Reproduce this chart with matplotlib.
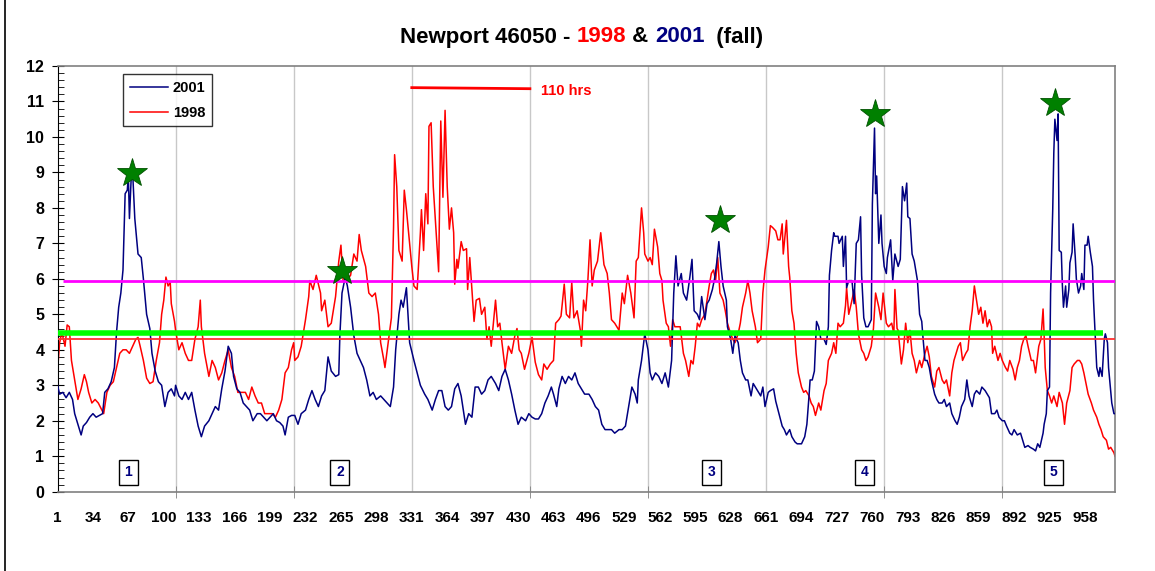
import matplotlib
matplotlib.use('Agg')
import matplotlib.pyplot as plt
from matplotlib.offsetbox import TextArea, HPacker, AnchoredOffsetbox
from matplotlib.lines import Line2D

plt.rcParams['font.family'] = ['Liberation Sans', 'DejaVu Sans']

# hour index / wave height
hours_2001 = [1, 3, 6, 9, 12, 15, 17, 20, 23, 25, 28, 31, 34, 37, 40, 43, 45, 48, 51, 54,
              56, 58, 60, 62, 64, 66, 67, 68, 70, 71, 73, 76, 79, 81, 84, 87, 89, 92, 95, 98,
              101, 104, 107, 110, 111, 114, 117, 120, 123, 126, 129, 132, 135, 138, 142, 145, 148, 151, 154, 157,
              160, 163, 165, 168, 171, 174, 177, 180, 183, 187, 190, 193, 196, 199, 202, 205, 208, 211, 213, 216,
              219, 222, 225, 228, 232, 235, 238, 241, 244, 247, 250, 253, 256, 260, 263, 264, 266, 269, 271, 274,
              277, 280, 283, 286, 289, 292, 295, 298, 302, 305, 308, 311, 314, 316, 319, 321, 323, 326, 329, 333,
              336, 339, 343, 346, 350, 353, 356, 359, 362, 365, 368, 371, 374, 377, 381, 384, 387, 390, 393, 396,
              399, 402, 405, 409, 412, 415, 418, 421, 424, 427, 430, 433, 437, 440, 443, 446, 449, 452, 455, 458,
              461, 463, 466, 468, 471, 474, 477, 480, 483, 486, 489, 492, 496, 499, 502, 505, 508, 511, 514, 517,
              520, 524, 527, 530, 533, 536, 539, 541, 542, 545, 548, 551, 553, 555, 558, 561, 564, 567, 570, 573,
              575, 577, 579, 582, 584, 587, 590, 592, 594, 597, 599, 601, 604, 606, 608, 611, 613, 615, 617, 619,
              621, 624, 625, 628, 630, 632, 635, 637, 639, 642, 644, 647, 649, 651, 653, 656, 658, 660, 663, 665,
              668, 670, 673, 676, 678, 680, 683, 685, 688, 690, 692, 694, 697, 699, 701, 702, 704, 706, 708, 710,
              712, 715, 717, 719, 720, 722, 724, 725, 728, 729, 732, 733, 735, 736, 738, 741, 743, 745, 747, 749,
              750, 752, 754, 756, 759, 760, 762, 763, 764, 766, 768, 769, 771, 773, 774, 777, 779, 781, 784, 786,
              788, 790, 792, 793, 795, 797, 799, 802, 804, 806, 807, 809, 811, 813, 815, 818, 820, 822, 825, 827,
              829, 832, 834, 837, 839, 841, 843, 846, 848, 850, 853, 855, 857, 860, 862, 865, 867, 869, 871, 874,
              876, 878, 881, 883, 885, 888, 890, 892, 895, 898, 900, 902, 905, 907, 910, 912, 914, 916, 919, 920,
              922, 923, 925, 926, 928, 929, 930, 932, 933, 934, 936, 937, 938, 940, 941, 943, 944, 946, 947, 949,
              950, 952, 954, 955, 957, 958, 960, 961, 963, 965, 966, 968, 969, 971, 972, 974, 976, 977, 979, 980,
              982, 983, 985, 986]
wave_2001 = [3.0, 2.75, 2.8, 2.65, 2.8, 2.6, 2.2, 1.9, 1.6, 1.85, 1.95, 2.1, 2.2, 2.1, 2.15, 2.2, 2.8, 2.9, 3.1, 3.5,
             4.5, 5.2, 5.6, 6.25, 8.4, 8.5, 8.9, 7.7, 9.1, 9.0, 7.7, 6.7, 6.6, 6.0, 5.0, 4.6, 3.9, 3.4, 3.1, 3.0,
             2.4, 2.8, 2.9, 2.7, 3.0, 2.7, 2.6, 2.8, 2.6, 2.8, 2.3, 1.85, 1.55, 1.85, 2.0, 2.2, 2.4, 2.3, 2.9, 3.4,
             4.1, 3.9, 3.25, 2.9, 2.8, 2.5, 2.4, 2.3, 2.0, 2.2, 2.2, 2.1, 2.0, 2.1, 2.2, 2.0, 1.95, 1.85, 1.6, 2.1,
             2.15, 2.15, 1.9, 2.2, 2.3, 2.6, 2.85, 2.6, 2.4, 2.7, 2.85, 3.8, 3.4, 3.25, 3.3, 4.4, 5.6, 6.05, 5.8, 5.2,
             4.4, 3.9, 3.7, 3.5, 3.15, 2.7, 2.8, 2.6, 2.7, 2.6, 2.5, 2.4, 2.95, 4.0, 5.0, 5.4, 5.2, 5.75, 4.2, 3.7,
             3.35, 3.0, 2.75, 2.6, 2.3, 2.6, 2.85, 2.85, 2.4, 2.3, 2.4, 2.9, 3.05, 2.7, 1.9, 2.2, 2.1, 2.95, 2.95, 2.75,
             2.85, 3.15, 3.25, 3.05, 2.85, 3.25, 3.45, 3.15, 2.75, 2.3, 1.9, 2.1, 2.0, 2.2, 2.1, 2.05, 2.05, 2.2, 2.5, 2.7,
             2.95, 2.75, 2.4, 2.9, 3.25, 3.05, 3.25, 3.15, 3.35, 3.05, 2.9, 2.75, 2.75, 2.6, 2.4, 2.3, 1.9, 1.75, 1.75, 1.75,
             1.65, 1.75, 1.75, 1.85, 2.4, 2.95, 2.75, 2.5, 3.15, 3.7, 4.45, 4.0, 3.35, 3.15, 3.35, 3.25, 3.05, 3.35, 2.95, 3.7,
             5.6, 6.65, 5.8, 6.15, 5.6, 5.4, 6.05, 6.55, 5.1, 5.0, 4.85, 5.5, 4.85, 5.3, 5.4, 5.7, 6.0, 6.45, 7.05, 6.35,
             5.8, 5.4, 4.65, 4.3, 3.9, 4.4, 4.2, 3.7, 3.35, 3.15, 3.15, 2.7, 3.05, 2.95, 2.85, 2.7, 2.95, 2.4, 2.8, 2.85,
             2.9, 2.55, 2.2, 1.85, 1.75, 1.6, 1.75, 1.55, 1.4, 1.35, 1.35, 1.35, 1.55, 1.9, 2.7, 3.15, 3.15, 3.4, 4.8, 4.65,
             4.3, 4.3, 4.15, 4.65, 6.1, 6.8, 7.3, 7.2, 7.2, 7.0, 7.2, 6.35, 7.2, 5.75, 5.95, 5.95, 5.3, 7.0, 7.1, 7.75,
             6.1, 4.9, 4.65, 4.65, 4.85, 8.1, 10.25, 8.4, 8.9, 7.0, 7.8, 7.0, 6.35, 6.15, 6.6, 7.1, 5.95, 6.7, 6.35, 6.55,
             8.6, 8.2, 8.7, 7.75, 7.7, 6.7, 6.5, 5.95, 5.0, 4.8, 4.4, 3.7, 3.7, 3.5, 3.15, 2.75, 2.6, 2.5, 2.5, 2.6,
             2.4, 2.5, 2.2, 2.0, 1.9, 2.1, 2.4, 2.6, 3.15, 2.7, 2.4, 2.75, 2.85, 2.75, 2.95, 2.85, 2.75, 2.65, 2.2, 2.2,
             2.3, 2.1, 2.0, 2.0, 1.85, 1.65, 1.6, 1.75, 1.6, 1.65, 1.45, 1.25, 1.3, 1.25, 1.2, 1.15, 1.35, 1.25, 1.65, 1.9,
             2.2, 2.85, 2.95, 5.6, 7.95, 9.55, 10.5, 9.9, 10.65, 6.8, 6.75, 5.8, 5.2, 5.8, 5.2, 5.7, 6.45, 6.75, 7.55, 6.6,
             6.0, 5.6, 5.8, 6.15, 5.7, 6.95, 6.95, 7.2, 6.75, 6.35, 5.4, 4.1, 3.5, 3.25, 3.5, 3.25, 4.3, 4.45, 4.2, 3.5,
             2.85, 2.5, 2.2, 2.2]

hours_1998 = [1, 3, 5, 8, 10, 12, 14, 17, 20, 23, 26, 28, 30, 33, 36, 39, 44, 47, 50, 53,
              56, 59, 62, 65, 68, 71, 74, 76, 78, 81, 84, 87, 90, 93, 96, 98, 100, 102, 104, 106,
              107, 110, 111, 114, 117, 120, 123, 126, 129, 132, 134, 135, 138, 142, 145, 148, 151, 154, 157, 160,
              163, 166, 169, 173, 176, 179, 182, 185, 188, 191, 194, 197, 201, 204, 207, 210, 213, 216, 219, 221,
              222, 225, 228, 232, 235, 236, 239, 242, 246, 247, 250, 253, 256, 260, 263, 265, 267, 270, 274, 277,
              280, 282, 284, 288, 291, 294, 297, 300, 302, 305, 306, 309, 312, 314, 315, 317, 319, 322, 324, 326,
              329, 331, 333, 336, 339, 340, 342, 344, 346, 347, 349, 351, 353, 356, 358, 360, 362, 364, 366, 368,
              370, 371, 373, 374, 377, 379, 382, 383, 385, 387, 389, 391, 394, 396, 399, 401, 403, 405, 409, 411,
              413, 415, 418, 421, 424, 427, 429, 431, 433, 436, 440, 443, 446, 449, 452, 454, 457, 460, 463, 465,
              468, 470, 473, 475, 478, 480, 482, 485, 488, 489, 491, 493, 495, 497, 499, 501, 504, 507, 510, 513,
              515, 517, 520, 524, 527, 529, 532, 535, 538, 540, 542, 545, 547, 548, 551, 553, 555, 557, 560, 562,
              564, 565, 568, 570, 572, 574, 576, 579, 581, 584, 586, 589, 591, 593, 595, 597, 599, 601, 604, 606,
              608, 610, 612, 614, 616, 618, 621, 623, 625, 628, 630, 632, 635, 637, 639, 642, 644, 646, 648, 651,
              653, 656, 658, 660, 663, 665, 667, 670, 672, 674, 676, 677, 680, 682, 683, 685, 687, 689, 691, 694,
              696, 698, 701, 703, 705, 707, 710, 712, 715, 717, 719, 722, 724, 726, 728, 730, 733, 735, 736, 738,
              741, 743, 745, 747, 750, 752, 754, 756, 759, 761, 763, 766, 768, 770, 773, 775, 778, 780, 781, 783,
              784, 787, 789, 791, 793, 795, 797, 799, 801, 804, 806, 809, 811, 813, 815, 818, 820, 822, 825, 827,
              829, 832, 834, 836, 838, 840, 842, 844, 847, 849, 851, 853, 855, 857, 859, 861, 863, 865, 867, 869,
              871, 872, 874, 877, 879, 881, 884, 886, 888, 891, 893, 895, 897, 899, 901, 903, 905, 908, 910, 912,
              915, 917, 919, 920, 921, 923, 925, 927, 929, 932, 934, 937, 939, 941, 944, 946, 948, 951, 953, 955,
              957, 959, 961, 964, 966, 969, 971, 973, 975, 978, 980, 982, 985, 986]
wave_1998 = [3.4, 4.2, 4.5, 4.1, 4.7, 4.65, 3.7, 3.15, 2.6, 2.9, 3.3, 3.1, 2.8, 2.5, 2.6, 2.5, 2.2, 2.8, 3.0, 3.1,
             3.5, 3.9, 4.0, 4.0, 3.9, 4.1, 4.3, 4.35, 4.1, 3.7, 3.2, 3.05, 3.1, 3.7, 4.2, 5.0, 5.4, 6.05, 5.8, 5.9,
             5.3, 4.8, 4.55, 4.0, 4.2, 3.9, 3.7, 3.7, 4.3, 4.65, 5.4, 4.65, 3.9, 3.25, 3.7, 3.5, 3.15, 3.35, 3.7, 4.0,
             3.5, 3.25, 2.8, 2.8, 2.8, 2.6, 2.95, 2.7, 2.5, 2.5, 2.2, 2.2, 2.2, 2.1, 2.3, 2.6, 3.35, 3.5, 4.0, 4.2,
             3.7, 3.8, 4.1, 4.85, 5.5, 5.95, 5.7, 6.1, 5.6, 5.1, 5.4, 4.65, 4.75, 5.5, 6.5, 6.95, 5.95, 5.95, 6.1, 6.7,
             6.5, 7.25, 6.8, 6.35, 5.6, 5.5, 5.6, 5.0, 4.2, 3.7, 3.5, 4.2, 4.9, 7.45, 9.5, 8.6, 6.8, 6.5, 8.5, 7.95,
             7.0, 6.35, 5.8, 5.7, 7.3, 7.95, 6.8, 8.4, 7.55, 10.3, 10.4, 8.6, 7.65, 6.2, 10.45, 8.3, 10.75, 8.6, 7.4, 8.0,
             7.3, 5.85, 6.55, 6.3, 7.05, 6.8, 6.85, 5.7, 6.6, 5.7, 4.8, 5.4, 5.45, 5.0, 5.2, 4.3, 4.65, 4.1, 5.4, 4.65,
             4.75, 4.2, 3.45, 4.1, 3.9, 4.4, 4.6, 4.0, 3.9, 3.45, 3.9, 4.35, 3.65, 3.3, 3.15, 3.6, 3.45, 3.6, 3.7, 4.75,
             4.85, 4.95, 5.85, 5.0, 4.9, 5.9, 4.9, 5.1, 4.55, 4.1, 5.4, 5.1, 5.95, 7.1, 5.8, 6.25, 6.5, 7.3, 6.4, 6.15,
             5.6, 4.85, 4.75, 4.55, 5.6, 5.3, 6.1, 5.6, 4.9, 6.5, 6.6, 8.0, 7.3, 6.7, 6.5, 6.6, 6.4, 7.4, 6.9, 6.15,
             5.95, 5.4, 4.75, 4.65, 4.1, 4.85, 4.65, 4.65, 4.65, 3.9, 3.7, 3.25, 3.7, 3.6, 4.1, 4.75, 4.65, 4.85, 5.0, 5.4,
             5.8, 6.15, 6.25, 5.95, 6.6, 5.6, 5.4, 5.1, 4.75, 4.45, 4.3, 4.2, 4.45, 4.75, 5.2, 5.6, 5.95, 5.6, 5.1, 4.65,
             4.2, 4.3, 5.6, 6.25, 6.9, 7.5, 7.45, 7.35, 7.1, 7.1, 7.55, 6.7, 7.65, 6.35, 6.05, 5.1, 4.75, 3.9, 3.35, 2.95,
             2.8, 2.85, 2.7, 2.5, 2.4, 2.15, 2.5, 2.3, 2.85, 3.05, 3.7, 3.9, 4.2, 3.9, 4.75, 4.65, 4.75, 5.25, 5.75, 5.0,
             5.4, 5.7, 5.2, 4.45, 4.0, 3.9, 3.7, 3.8, 4.1, 4.6, 5.6, 5.2, 4.85, 5.6, 4.75, 4.65, 4.75, 4.45, 5.7, 4.6,
             4.55, 3.6, 4.0, 4.75, 4.2, 4.55, 3.9, 3.7, 3.35, 3.7, 3.5, 3.9, 4.1, 3.8, 3.25, 2.95, 3.4, 3.5, 3.15, 3.05,
             3.15, 2.7, 3.35, 3.7, 3.9, 4.1, 4.2, 3.7, 3.9, 4.0, 4.65, 5.1, 5.8, 5.4, 5.0, 5.2, 4.75, 5.1, 4.65, 4.85,
             4.65, 3.9, 4.1, 3.7, 3.9, 3.7, 3.5, 3.4, 3.7, 3.45, 3.15, 3.5, 3.7, 4.1, 4.3, 4.4, 4.1, 3.7, 3.7, 3.35,
             4.1, 4.3, 5.15, 4.4, 3.5, 2.85, 2.7, 2.5, 2.7, 2.4, 2.8, 2.5, 1.9, 2.5, 2.85, 3.5, 3.6, 3.7, 3.7, 3.6,
             3.35, 3.05, 2.75, 2.5, 2.3, 2.1, 1.9, 1.75, 1.55, 1.45, 1.2, 1.25, 1.1, 1.0]

# reference levels
level_magenta = 5.95
level_green = 4.48
level_red = 4.3

# storm markers and numbered events
star_hours = [70, 266, 618, 762, 930]
star_values = [8.98, 6.23, 7.66, 10.64, 10.97]
event_hours = [67, 264, 610, 753, 929]
event_labels = ['1', '2', '3', '4', '5']

xtick_labels = list(range(1, 959, 33))
grid_hours = list(range(1, 986, 110))

NAVY = '#000080'


def main():
    fig = plt.figure(figsize=(11.55, 5.71), dpi=100)
    ax = fig.add_axes([57.5 / 1155, 1 - 491.7 / 571, 1057.5 / 1155, 425.7 / 571])

    # thin frame line on the left of the figure
    fig.add_artist(Line2D([5 / 1155, 5 / 1155], [0, 1], color='black', lw=1.2,
                          transform=fig.transFigure))

    for x in grid_hours[1:]:
        ax.axvline(x, color='#c8c8c8', lw=1, zorder=0)

    ax.plot(hours_2001, wave_2001, color=NAVY, lw=1.1, label='2001', zorder=3)
    ax.plot(hours_1998, wave_1998, color='red', lw=1.1, label='1998', zorder=2)

    ax.hlines(level_red, 1, 986, color='#ff3030', lw=1.3, zorder=4)
    ax.hlines(level_green, 1, 975, color='#00ff00', lw=4, zorder=4)
    ax.hlines(level_magenta, 6, 986, color='#ff00ff', lw=2, zorder=4)

    # 110 hrs bar
    ax.plot([331, 441], [11.39, 11.36], color='red', lw=2, zorder=4)
    ax.text(451, 11.3, '110 hrs', color='red', fontsize=10.5, fontweight='bold',
            ha='left', va='center')

    ax.plot(star_hours, star_values, linestyle='none', marker='*', markersize=22,
            color='#008000', markeredgecolor='#005000', markeredgewidth=0.6, zorder=6)

    for h, lab in zip(event_hours, event_labels):
        ax.text(h, 0.55, lab, color=NAVY, fontsize=10, fontweight='bold', ha='center',
                va='center', zorder=6,
                bbox=dict(boxstyle='square,pad=0.4', fc='white', ec='black', lw=1))

    ax.set_xlim(1, 986)
    ax.set_ylim(0, 12)
    ax.set_xticks(xtick_labels)
    ax.set_xticklabels([str(v) for v in xtick_labels], fontsize=11, fontweight='bold')
    ax.set_xticks(grid_hours, minor=True)
    ax.tick_params(axis='x', which='major', length=0, pad=14)
    ax.tick_params(axis='x', which='minor', direction='inout', length=8, color='#808080')
    ax.set_yticks(range(0, 13))
    ax.set_yticklabels([str(v) for v in range(0, 13)], fontsize=11.5, fontweight='bold')
    ax.set_yticks([i * 0.2 for i in range(61)], minor=True)
    ax.tick_params(axis='y', which='major', direction='inout', length=8, pad=5.5)
    ax.tick_params(axis='y', which='minor', direction='in', length=4)

    for side in ['top', 'right', 'bottom']:
        ax.spines[side].set_color('#808080')
        ax.spines[side].set_linewidth(1.2)
    ax.spines['left'].set_color('black')

    leg = ax.legend(loc='upper left', bbox_to_anchor=(0.0622, 0.9805),
                    prop={'weight': 'bold', 'size': 10.5}, frameon=True, fancybox=False,
                    edgecolor='black', borderaxespad=0, handlelength=2.6, handletextpad=0.35,
                    labelspacing=0.75, borderpad=0.45)
    leg.get_frame().set_linewidth(1)

    # title with coloured years
    parts = [('Newport 46050 - ', 'black'), ('1998', 'red'), (' & ', 'black'),
             ('2001', NAVY), ('  (fall)', 'black')]
    boxes = [TextArea(s, textprops=dict(color=c, fontsize=16, fontweight='bold')) for s, c in parts]
    pack = HPacker(children=boxes, align='baseline', pad=0, sep=0)
    title = AnchoredOffsetbox(loc='center', child=pack, pad=0, frameon=False, borderpad=0,
                              bbox_to_anchor=(582 / 1155, 1 - 37 / 571),
                              bbox_transform=fig.transFigure)
    fig.add_artist(title)

    fig.savefig('out.png', dpi=100, facecolor='w')
    plt.close('all')


if __name__ == '__main__':
    main()
